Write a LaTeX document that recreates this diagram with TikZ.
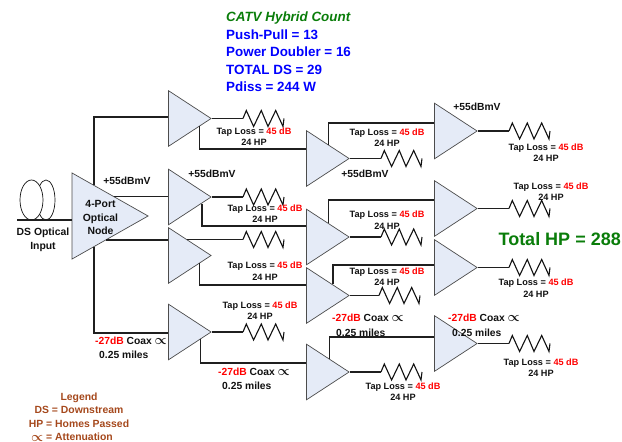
\documentclass[tikz,border=0pt]{standalone}
\usepackage{xcolor}
\usepackage{fontspec}
\setmainfont{Liberation Sans}
\usetikzlibrary{positioning,shapes.geometric,calc}
\definecolor{blk}{HTML}{111111}
\definecolor{soft}{HTML}{E5EBF7}
\definecolor{lnk}{HTML}{1F1F1F}
\definecolor{grn}{HTML}{0A7D0A}
\definecolor{blu}{HTML}{0000FF}
\definecolor{lgd}{HTML}{A5481C}
\newcommand{\atten}{\scalebox{1.35}{\boldmath$\propto$}}
\newcommand{\taptxt}{Tap Loss = \textcolor{red}{45 dB}\\24 HP}
\newcommand{\coaxtxt}{\textcolor{red}{-27dB} Coax \atten\\[0.5pt]\hspace*{4pt}0.25 miles}
\tikzset{
  amp/.style={draw=blk!75, line width=0.7pt, fill=soft, shape=isosceles triangle, shape border rotate=0,
              isosceles triangle stretches, minimum height=42.5pt, minimum width=55.5pt,
              inner sep=0pt, anchor=apex},
  onode/.style={amp, minimum height=76pt, minimum width=86pt},
  l/.style={draw=lnk, line width=1.3pt},
  tap/.style={font=\fontsize{9.15}{11.5}\selectfont\bfseries, align=center, text=blk, inner sep=0pt},
  sig/.style={font=\fontsize{10.3}{12}\selectfont\bfseries, text=blk, inner sep=0pt},
  coax/.style={font=\fontsize{10.3}{14}\selectfont\bfseries, align=left, text=blk, inner sep=0pt, anchor=west},
  lbl/.style={font=\fontsize{10.4}{13.5}\selectfont\bfseries, align=center, text=blk, inner sep=0pt},
  head/.style={font=\fontsize{13.4}{17.5}\selectfont\bfseries, align=left, text=blu, inner sep=0pt, anchor=west},
  fib/.style={draw=blk, line width=0.7pt, ellipse, minimum width=#1, minimum height=40pt, inner sep=0pt},
  zig/.pic={
    \coordinate (-in) at (0,0);
    \draw[draw=blk, line width=1.1pt, line join=miter] (0,0) -- (3.3,-8) -- (10.6,8) -- (18.3,-8)
      -- (25,8) -- (32.7,-8) -- (40,8) -- (41,0);
  },
}
\begin{document}
\begin{tikzpicture}[x=1pt, y=-1pt]
  \useasboundingbox (0,0) rectangle (622,442);
  % optical input
  \node[fib=18pt] (cb) at (46,200) {};
  \node[fib=23pt, fill=white] (ca) at (31.5,200) {};
  \coordinate (in) at (17,220);
  \node[lbl] (dsin) at (43,240) {DS Optical\\Input};
  % amplifiers, first column
  \node[onode] (nd) at (149,216) {};
  \node[amp] (a1) at (212,118.5) {};
  \node[amp] (a2) at (212,197) {};
  \node[amp] (a3) at (212,255.5) {};
  \node[amp] (a4) at (212,332) {};
  % second column
  \node[amp] (b1) at (350,158.5) {};
  \node[amp] (b2) at (350,237) {};
  \node[amp] (b3) at (350,295.5) {};
  \node[amp] (b4) at (350,372) {};
  % third column
  \node[amp] (c1) at (478,131) {};
  \node[amp] (c2) at (478,208.5) {};
  \node[amp] (c3) at (478,267.5) {};
  \node[amp] (c4) at (478,343.5) {};
  % tap resistors
  \pic (ra1) at (243,118.5) {zig};
  \pic (ra2) at (243,197) {zig};
  \pic (ra3) at (243,239.5) {zig};
  \pic (ra4) at (243,332) {zig};
  \pic (rb1) at (381,158.5) {zig};
  \pic (rb2) at (381,237) {zig};
  \pic (rb3) at (379,295.5) {zig};
  \pic (rb4) at (381,372) {zig};
  \pic (rc1) at (509,131) {zig};
  \pic (rc2) at (509,208.5) {zig};
  \pic (rc3) at (509,267.5) {zig};
  \pic (rc4) at (509,343.5) {zig};
  % links
  \draw[l] (in) -- (nd.left corner |- in);
  \draw[l] ($(nd.apex)!0.71!(nd.left corner)$) |- (a1.left corner |- 0,117);
  \draw[l] ($(nd.apex)!0.447!(nd.left corner)$) coordinate (p2) -- (p2 -| a2.left corner);
  \draw[l] ($(nd.apex)!0.553!(nd.right corner)$) coordinate (p3) -- (p3 -| a3.left corner);
  \draw[l] ($(nd.apex)!0.71!(nd.right corner)$) |- (a4.left corner |- 0,333);
  \draw[l] (a1.apex) -- (ra1-in);
  \draw[l] (a2.apex) -- (ra2-in);
  \draw[l] ($(a3.apex)!0.57!(a3.left corner)$) coordinate (q3) -- (q3 -| ra3-in);
  \draw[l] (a4.apex) -- (ra4-in);
  \draw[l] (b1.apex) -- (rb1-in);
  \draw[l] (b2.apex) -- (rb2-in);
  \draw[l] (b3.apex) -- (rb3-in);
  \draw[l] (b4.apex) -- (rb4-in);
  \draw[l] (c1.apex) -- (rc1-in);
  \draw[l] (c2.apex) -- (rc2-in);
  \draw[l] (c3.apex) -- (rc3-in);
  \draw[l] (c4.apex) -- (rc4-in);
  \draw[l] ($(a1.apex)!0.28!(a1.right corner)$) |- (b1.left corner |- 0,149);
  \draw[l] ($(a2.apex)!0.23!(a2.right corner)$) |- (b2.left corner |- 0,226);
  \draw[l] ($(a3.apex)!0.28!(a3.right corner)$) |- (b3.left corner |- 0,285);
  \draw[l] ($(a4.apex)!0.26!(a4.right corner)$) |- (b4.left corner |- 0,363);
  \draw[l] ($(b1.apex)!0.49!(b1.left corner)$) |- (c1.left corner |- 0,123);
  \draw[l] ($(b2.apex)!0.49!(b2.left corner)$) |- (c2.left corner |- 0,200);
  \draw[l] ($(b3.apex)!0.39!(b3.left corner)$) |- (c3.left corner |- 0,265);
  \draw[l] ($(b4.apex)!0.47!(b4.left corner)$) |- (c4.left corner |- 0,337);
  % tap labels
  \node[tap] (ta1) at (254,136.5) {\taptxt};
  \node[tap] (ta2) at (265,213.5) {\taptxt};
  \node[tap] (ta3) at (265,271) {\taptxt};
  \node[tap] (ta4) at (260,310.5) {\taptxt};
  \node[tap] (tb1) at (387,137.5) {\taptxt};
  \node[tap] (tb2) at (387,220) {\taptxt};
  \node[tap] (tb3) at (387,276.5) {\taptxt};
  \node[tap] (tb4) at (403,391.5) {\taptxt};
  \node[tap] (tc1) at (546,152.5) {\taptxt};
  \node[tap] (tc2) at (551,191.5) {\taptxt};
  \node[tap] (tc3) at (536,288) {\taptxt};
  \node[tap] (tc4) at (541,367.5) {\taptxt};
  % levels
  \node[sig] (pnd) at (127,181) {+55dBmV};
  \node[sig] (pa2) at (212,174) {+55dBmV};
  \node[sig] (pb1) at (365,174) {+55dBmV};
  \node[sig] (pc1) at (477,107) {+55dBmV};
  % coax runs
  \node[coax] (kn) at (95,348) {\coaxtxt};
  \node[coax] (ka) at (218,379) {\coaxtxt};
  \node[coax] (kb) at (332,325.5) {\coaxtxt};
  \node[coax] (kc) at (448,325.5) {\coaxtxt};
  % texts
  \node[lbl] (ndl) at (100.5,217.5) {4-Port\\Optical\\Node};
  \node[head] (cnt) at (226,52) {\textcolor{grn}{\itshape CATV Hybrid Count}\\Push-Pull = 13\\Power Doubler = 16\\TOTAL DS = 29\\Pdiss = 244 W};
  \node[font=\fontsize{18}{20}\selectfont\bfseries, text=grn, inner sep=0pt, anchor=east] (tot) at (621,239) {Total HP = 288};
  \node[lbl, text=lgd] (lg) at (79,417) {Legend\\DS = Downstream\\HP = Homes Passed\\\hspace*{-14pt}\raisebox{-1pt}{\atten} = Attenuation};
\end{tikzpicture}
\end{document}
